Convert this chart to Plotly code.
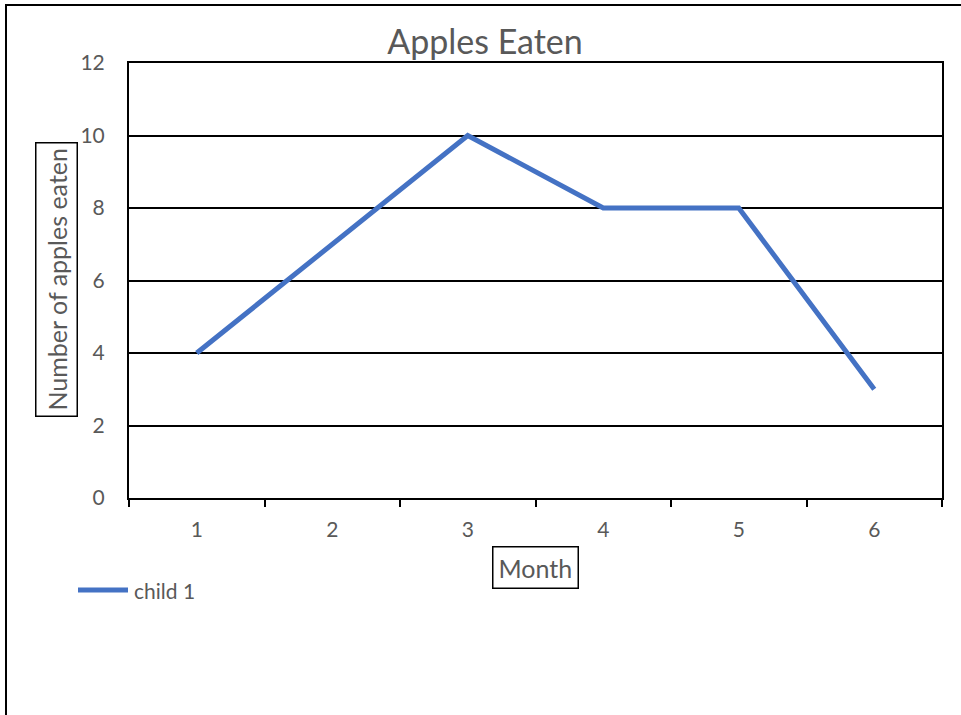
import plotly.graph_objects as go

# Monthly apple counts for one child
months = ["1", "2", "3", "4", "5", "6"]
child_1 = [4, 7, 10, 8, 8, 3]
series_name = "child 1"

chart_title = "Apples Eaten"
x_title = "Month"
y_title = "Number of apples eaten"

W, H = 961, 715
L, R, T, B = 129, 19, 63, 217
PW, PH = W - L - R, H - T - B

FONT = "Lato"
GREY = "#595959"
BLUE = "#4472C4"


def px(x):
    """Pixel x -> paper x."""
    return (x - L) / PW


def py(y):
    """Pixel y -> paper y."""
    return (H - B - y) / PH


fig = go.Figure()
fig.add_trace(go.Scatter(
    x=months, y=child_1, mode="lines", name=series_name,
    line=dict(color=BLUE, width=5), showlegend=False,
))

fig.update_layout(
    width=W, height=H,
    margin=dict(l=L, r=R, t=T, b=B),
    paper_bgcolor="white", plot_bgcolor="white",
    font=dict(family=FONT, color=GREY),
    title=dict(text=chart_title, xref="container", yref="container",
               x=485 / W, y=1 - 42 / H, xanchor="center", yanchor="middle",
               font=dict(size=34, color=GREY, family=FONT)),
    xaxis=dict(
        type="category", range=[-0.5, len(months) - 0.5],
        tickson="boundaries", ticks="outside",
        ticklen=7, tickwidth=2, tickcolor="black",
        showgrid=False, showline=True, linecolor="black", linewidth=2,
        mirror=True, tickfont=dict(size=21, color=GREY),
        ticklabelstandoff=12,
    ),
    yaxis=dict(
        range=[0, 12], dtick=2, ticks="", showgrid=True,
        gridcolor="black", gridwidth=1.5, zeroline=False,
        showline=True, linecolor="black", linewidth=2, mirror=True,
        tickfont=dict(size=21, color=GREY), ticklabelstandoff=18,
    ),
    shapes=[
        # outer chart frame (left and top edges visible)
        dict(type="rect", xref="paper", yref="paper",
             x0=px(6), x1=px(970), y0=py(5), y1=py(725),
             line=dict(color="black", width=2), layer="below"),
        # legend swatch
        dict(type="line", xref="paper", yref="paper",
             x0=px(78), x1=px(128), y0=py(590), y1=py(590),
             line=dict(color=BLUE, width=5)),
    ],
    annotations=[
        dict(text=y_title, xref="paper", yref="paper", x=px(56), y=py(280),
             textangle=-90, showarrow=False, xanchor="center", yanchor="middle",
             font=dict(size=25, color=GREY), bordercolor="black",
             borderwidth=1.5, borderpad=5),
        dict(text=x_title, xref="paper", yref="paper", x=px(535), y=py(567),
             showarrow=False, xanchor="center", yanchor="middle",
             font=dict(size=25, color=GREY), bordercolor="black",
             borderwidth=1.5, borderpad=5),
        dict(text=series_name, xref="paper", yref="paper", x=px(132), y=py(590),
             showarrow=False, xanchor="left", yanchor="middle",
             font=dict(size=21, color=GREY)),
    ],
)

fig.write_html("out.html")
